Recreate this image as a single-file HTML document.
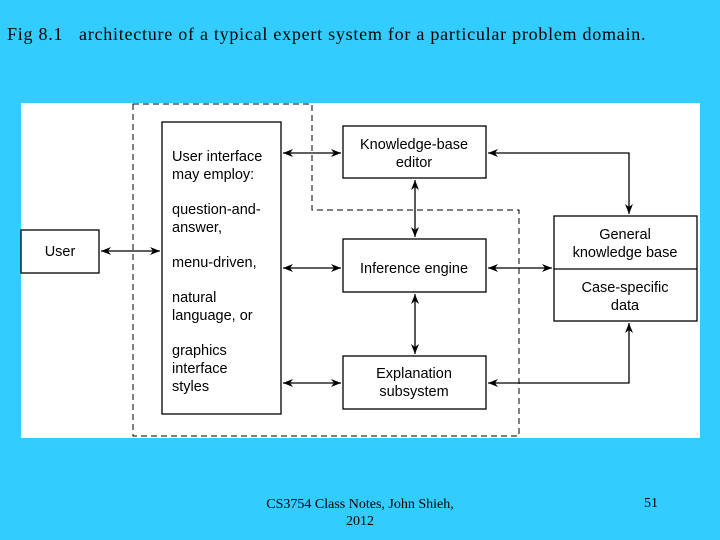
<!DOCTYPE html>
<html><head><style>
body{margin:0;width:720px;height:540px;background:#33CCFF;overflow:hidden;position:relative;font-family:"Liberation Serif",serif;}
.t{position:absolute;color:#000;white-space:nowrap;}
</style></head><body>
<div class="t" style="left:7px;top:24px;font-size:18px;letter-spacing:0.75px;">Fig 8.1&nbsp;&nbsp; architecture of a typical expert system for a particular problem domain.</div>
<div class="t" style="left:230px;top:496px;width:260px;text-align:center;font-size:14px;line-height:17px;">CS3754 Class Notes, John Shieh,<br>2012</div>
<div class="t" style="left:644px;top:496px;font-size:14px;">51</div>
<svg style="position:absolute;left:0;top:0" width="720" height="540" font-family="Liberation Sans, sans-serif" font-size="14.5">
<defs><marker id="a" markerWidth="10" markerHeight="8" refX="10" refY="4" orient="auto-start-reverse" markerUnits="userSpaceOnUse"><path d="M0,0 L10,4 L0,8 L3,4z" fill="#000"/></marker></defs>
<rect x="21" y="103" width="679" height="335" fill="#fff"/>
<path d="M133,104 H312 V210 H519 V436 H133 Z" fill="none" stroke="#000" stroke-dasharray="6,4"/>
<g fill="#fff" stroke="#000" stroke-width="1.3">
<rect x="162" y="122" width="119" height="292"/>
<rect x="21" y="230" width="78" height="43"/>
<rect x="343" y="126" width="143" height="52"/>
<rect x="343" y="239" width="143" height="53"/>
<rect x="343" y="356" width="143" height="53"/>
<rect x="554" y="216" width="143" height="105"/>
<line x1="554" y1="269" x2="697" y2="269"/>
</g>
<g stroke="#000" stroke-width="1.3" fill="none" marker-start="url(#a)" marker-end="url(#a)">
<line x1="101" y1="251" x2="160" y2="251"/>
<line x1="283" y1="153" x2="341" y2="153"/>
<line x1="283" y1="268" x2="341" y2="268"/>
<line x1="283" y1="383" x2="341" y2="383"/>
<line x1="415" y1="180" x2="415" y2="237"/>
<line x1="415" y1="294" x2="415" y2="354"/>
<line x1="488" y1="268" x2="552" y2="268"/>
<path d="M488,153 H629 V214"/>
<path d="M488,383 H629 V323"/>
</g>
<g fill="#000">
<text x="60" y="256" text-anchor="middle">User</text>
<text x="172" y="161">User interface</text>
<text x="172" y="179">may employ:</text>
<text x="172" y="214">question-and-</text>
<text x="172" y="232">answer,</text>
<text x="172" y="267">menu-driven,</text>
<text x="172" y="302">natural</text>
<text x="172" y="320">language, or</text>
<text x="172" y="355">graphics</text>
<text x="172" y="373">interface</text>
<text x="172" y="391">styles</text>
<text x="414" y="149" text-anchor="middle">Knowledge-base</text>
<text x="414" y="167" text-anchor="middle">editor</text>
<text x="414" y="273" text-anchor="middle">Inference engine</text>
<text x="414" y="378" text-anchor="middle">Explanation</text>
<text x="414" y="396" text-anchor="middle">subsystem</text>
<text x="625" y="239" text-anchor="middle">General</text>
<text x="625" y="257" text-anchor="middle">knowledge base</text>
<text x="625" y="292" text-anchor="middle">Case-specific</text>
<text x="625" y="310" text-anchor="middle">data</text>
</g>
</svg>
</body></html>
